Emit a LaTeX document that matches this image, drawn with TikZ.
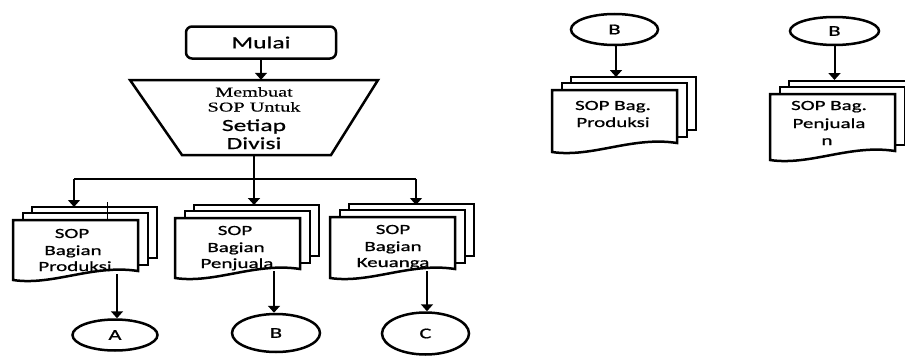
\documentclass[tikz,border=0pt]{standalone}
\usepackage{fontspec}
\newfontfamily\calfont[FakeStretch=1.5,FakeBold=0.8]{Carlito}
\newfontfamily\tmsfont[FakeStretch=1.5,FakeBold=0.4]{Liberation Serif}
\usetikzlibrary{arrows.meta,shapes.geometric}
\newcommand\docstack[3]{%
  \filldraw[pageline] (#1+19,#2-13) rectangle (#1+144,#2+#3-22);
  \filldraw[pageline] (#1+10,#2-7) rectangle (#1+135,#2+#3-15);
  \filldraw[pageline] (#1,#2) -- (#1+125,#2) -- (#1+125,#2+#3-9)
     .. controls (#1+80,#2+#3-16) and (#1+40,#2+#3+6) .. (#1,#2+#3) -- cycle;}
\begin{document}
\begin{tikzpicture}[x=1pt,y=-1pt,
  pageline/.style={draw=black,fill=white,line width=2.5pt,line join=miter},
  shapeline/.style={draw=black,line width=2.5pt,line join=miter},
  conn/.style={line width=2pt,-{Triangle[width=12pt,length=7pt]}},
  thinconn/.style={line width=1.2pt,-{Triangle[width=12pt,length=7pt]}},
  thinline/.style={line width=1.1pt},
  doctext/.style={font=\calfont\fontsize{14}{16}\selectfont,inner sep=0pt,anchor=base},
  serifline/.style={font=\tmsfont\fontsize{13.5}{15}\selectfont,inner sep=0pt,anchor=base},
  sansline/.style={font=\calfont\fontsize{17}{18}\selectfont,inner sep=0pt,anchor=base},
  conncirc/.style={ellipse,draw=black,fill=white,line width=2.5pt,inner sep=0pt,
    font=\calfont\fontsize{15}{16}\selectfont},
  startbox/.style={draw=black,line width=2.5pt,rounded corners=6pt,
    minimum width=150pt,minimum height=32pt,inner sep=0pt,
    font=\calfont\fontsize{17}{18}\selectfont}]
\useasboundingbox (0,0) rectangle (905,356);

% start
\node[startbox] (mulai) at (261,42.5) {Mulai};

% trapezoid (manual operation)
\draw[shapeline] (130,80) -- (378,80) -- (331,155) -- (182,155) -- cycle;
\node[minimum width=248pt,minimum height=75pt,inner sep=0pt] (trap) at (254,117.5) {};
\node[serifline] (t1) at (254,96.5) {Membuat};
\node[serifline] (t2) at (254,111.5) {SOP Untuk};
\node[sansline] (t3) at (254,131) {Setiap};
\node[sansline] (t4) at (254,149) {Divisi};

% document stacks
\docstack{13}{220}{60}
\docstack{175}{218}{60}
\docstack{330}{217}{61}
\docstack{552}{90}{62}
\docstack{770}{94}{66}
\draw[line width=0.7pt] (107,202) -- (107,220);

\node[doctext] (d1a) at (72,238) {SOP};
\node[doctext] (d1b) at (73,255) {Bagian};
\node[doctext] (d1c) at (75,271) {Produksi};
\node[doctext] (d2a) at (235,235) {SOP};
\node[doctext] (d2b) at (236,252) {Bagian};
\node[doctext] (d2c) at (237,268) {Penjuala};
\node[doctext] (d3a) at (393,234) {SOP};
\node[doctext] (d3b) at (393,251) {Bagian};
\node[doctext] (d3c) at (393,267) {Keuanga};
\node[doctext] (r1a) at (613,110) {SOP Bag.};
\node[doctext] (r1b) at (613,127) {Produksi};
\node[doctext] (r2a) at (829,110) {SOP Bag.};
\node[doctext] (r2b) at (829,128) {Penjuala};
\node[doctext] (r2c) at (827,145) {n};

% connectors (off-page)
\node[conncirc,minimum width=85pt,minimum height=31pt] (cA) at (115,335) {A};
\node[conncirc,minimum width=88pt,minimum height=38pt] (cB) at (276,333) {B};
\node[conncirc,minimum width=87pt,minimum height=42pt] (cC) at (425.5,333.5) {C};
\node[conncirc,minimum width=87pt,minimum height=31pt] (b1) at (614.5,29.5) {B};
\node[conncirc,minimum width=89pt,minimum height=28pt] (b2) at (834.5,31) {B};

% named points on the documents
\coordinate (d1top) at (74,207);
\coordinate (d2top) at (253,205);
\coordinate (d3top) at (416,205);
\coordinate (d1out) at (117,274);
\coordinate (d2out) at (274,271);
\coordinate (d3out) at (427,271);
\coordinate (r1top) at (616,77);
\coordinate (r2top) at (834.5,80);
\coordinate (barL) at (74,179);
\coordinate (barR) at (416,179);

% flow
\draw[conn] (mulai.south) -- (mulai.south |- trap.north);
\draw[conn] (trap.south) -- (trap.south |- d2top);
\draw[thinline] (barL) -- (barR);
\draw[thinconn] (barL) -- (d1top);
\draw[thinconn] (barR) -- (d3top);
\draw[conn] (d1out) -- (d1out |- cA.north);
\draw[conn] (d2out) -- (d2out |- cB.north);
\draw[conn] (d3out) -- (d3out |- cC.north);
\draw[conn] (b1.south -| r1top) -- (r1top);
\draw[conn] (b2.south) -- (r2top);
\end{tikzpicture}
\end{document}
